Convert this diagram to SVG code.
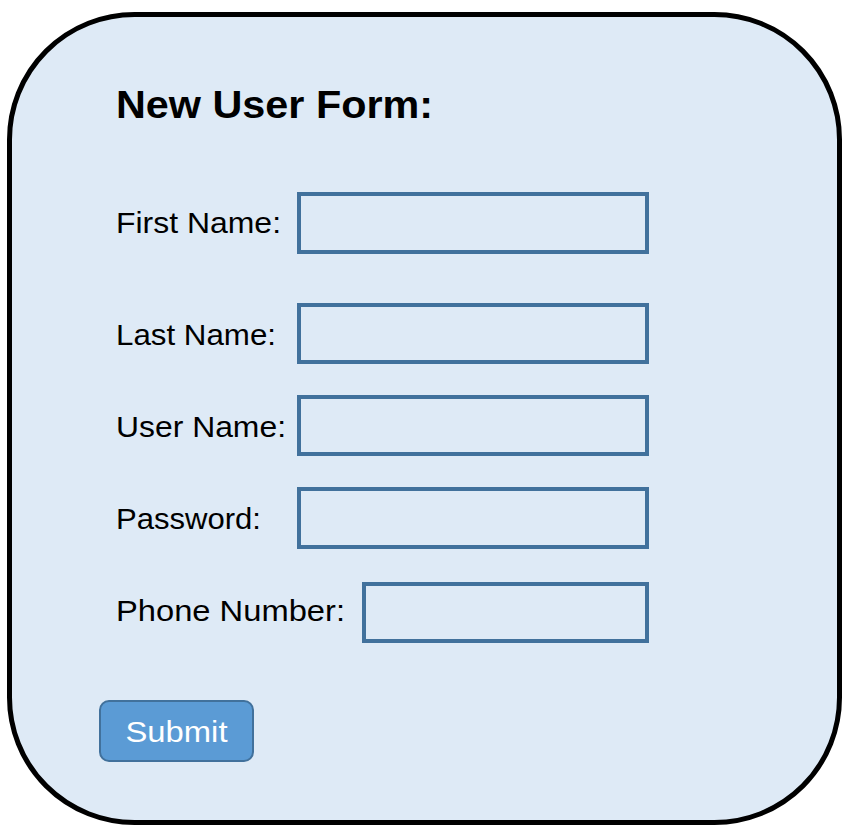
<svg xmlns="http://www.w3.org/2000/svg" width="848" height="839" viewBox="0 0 848 839">
<style>
.lbl{font-family:"Liberation Sans",Arial,sans-serif;font-size:29px;fill:#000}
.title{font-family:"Liberation Sans",Arial,sans-serif;font-size:38px;font-weight:bold;fill:#000}
.field{fill:none;stroke:#41719C;stroke-width:4}
.btn{fill:#5B9BD5;stroke:#41719C;stroke-width:2}
.btntxt{font-family:"Liberation Sans",Arial,sans-serif;font-size:29px;fill:#fff}
</style>
<rect width="848" height="839" fill="#fff"/>
<g id="form">
<rect x="9.5" y="14.5" width="830" height="808" rx="125" ry="125" fill="#DEEAF6" stroke="#000" stroke-width="5"/>
</g>
<g id="title"><text class="title" x="116" y="118" textLength="317" lengthAdjust="spacingAndGlyphs">New User Form:</text></g>
<g id="first-name">
<text class="lbl" x="116" y="233" textLength="165" lengthAdjust="spacingAndGlyphs">First Name:</text>
<rect class="field" x="299" y="194" width="348" height="58"/>
</g>
<g id="last-name">
<text class="lbl" x="116" y="345" textLength="160" lengthAdjust="spacingAndGlyphs">Last Name:</text>
<rect class="field" x="299" y="305" width="348" height="57"/>
</g>
<g id="user-name">
<text class="lbl" x="116" y="437" textLength="170" lengthAdjust="spacingAndGlyphs">User Name:</text>
<rect class="field" x="299" y="397" width="348" height="57"/>
</g>
<g id="password">
<text class="lbl" x="116" y="529" textLength="145" lengthAdjust="spacingAndGlyphs">Password:</text>
<rect class="field" x="299" y="489" width="348" height="58"/>
</g>
<g id="phone-number">
<text class="lbl" x="116" y="621" textLength="229" lengthAdjust="spacingAndGlyphs">Phone Number:</text>
<rect class="field" x="364" y="584" width="283" height="57"/>
</g>
<g id="submit">
<rect class="btn" x="100" y="701" width="153" height="60" rx="9" ry="9"/>
<text class="btntxt" x="176.5" y="742" text-anchor="middle" textLength="102" lengthAdjust="spacingAndGlyphs">Submit</text>
</g>
<g id="connectors"/>
</svg>
